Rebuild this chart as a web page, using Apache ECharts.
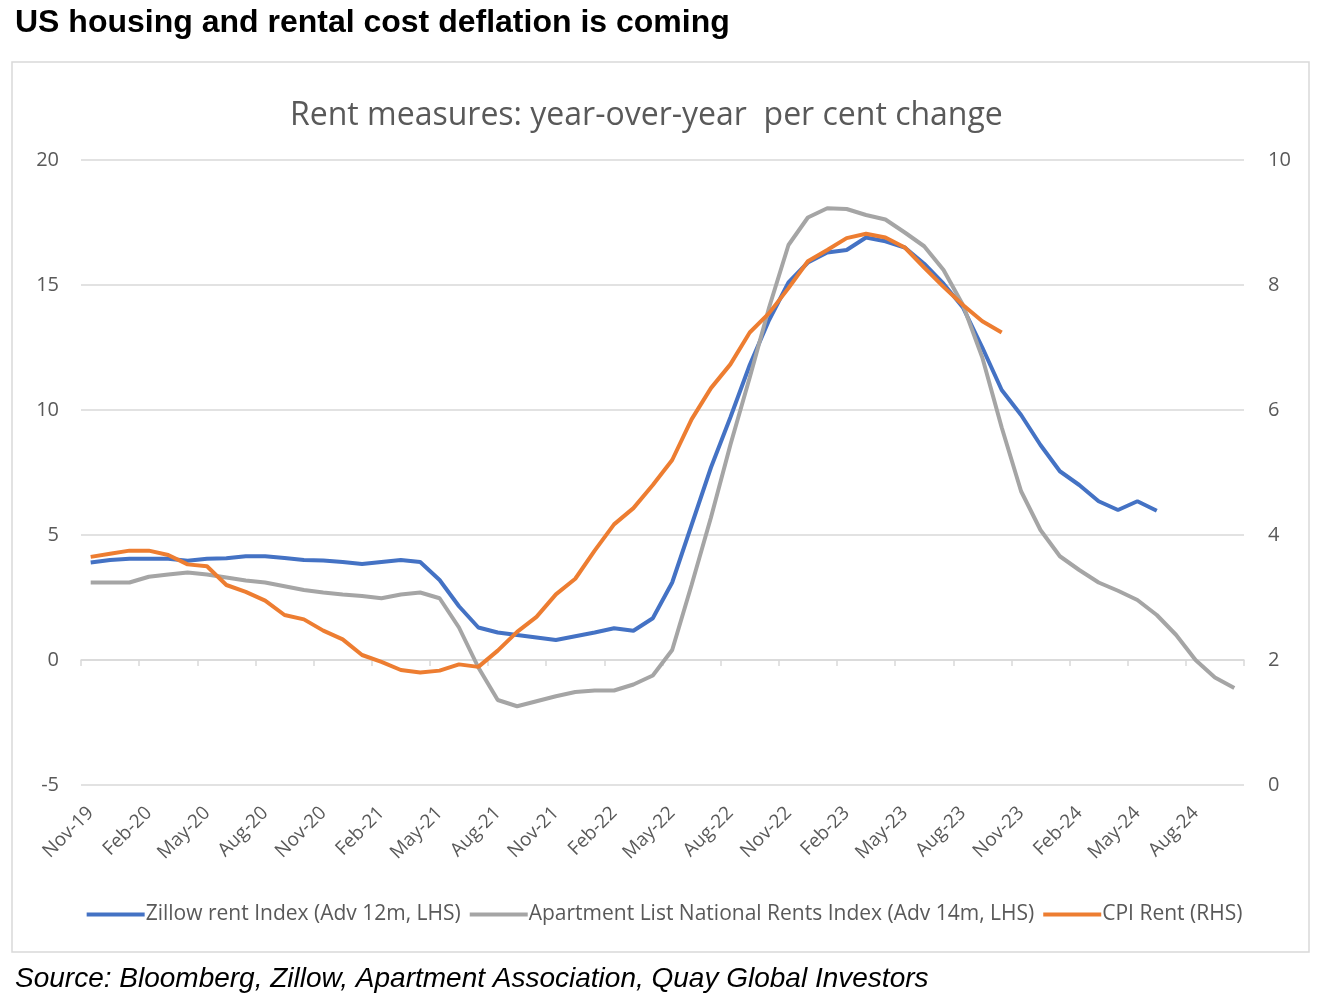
<!DOCTYPE html>
<html>
<head>
<meta charset="utf-8">
<title>Rent measures</title>
<script src="https://cdn.jsdelivr.net/npm/echarts@6/dist/echarts.min.js"></script>
<style>
  html, body { margin: 0; padding: 0; background: #fff; }
  #chart-container { width: 1329px; height: 1003px; }
</style>
</head>
<body>
<div id="chart-container"></div>
<script>
// monthly categories, Nov-19 .. Oct-24
var months = [
  "Nov-19", "Dec-19", "Jan-20", "Feb-20", "Mar-20", "Apr-20", "May-20", "Jun-20", "Jul-20", "Aug-20",
  "Sep-20", "Oct-20", "Nov-20", "Dec-20", "Jan-21", "Feb-21", "Mar-21", "Apr-21", "May-21", "Jun-21",
  "Jul-21", "Aug-21", "Sep-21", "Oct-21", "Nov-21", "Dec-21", "Jan-22", "Feb-22", "Mar-22", "Apr-22",
  "May-22", "Jun-22", "Jul-22", "Aug-22", "Sep-22", "Oct-22", "Nov-22", "Dec-22", "Jan-23", "Feb-23",
  "Mar-23", "Apr-23", "May-23", "Jun-23", "Jul-23", "Aug-23", "Sep-23", "Oct-23", "Nov-23", "Dec-23",
  "Jan-24", "Feb-24", "Mar-24", "Apr-24", "May-24", "Jun-24", "Jul-24", "Aug-24", "Sep-24", "Oct-24"
];

// Zillow rent index, advanced 12m (LHS)
var zillow = [
  3.9, 4.0, 4.05, 4.05, 4.05, 3.97, 4.05, 4.07, 4.15, 4.15,
  4.08, 4.0, 3.98, 3.92, 3.84, 3.92, 4.0, 3.92, 3.2, 2.15,
  1.3, 1.1, 1.0, 0.9, 0.8, 0.95, 1.1, 1.27, 1.17, 1.67,
  3.1, 5.4, 7.7, 9.7, 11.8, 13.6, 15.1, 15.9, 16.3, 16.4,
  16.9, 16.75, 16.5, 15.85, 15.05, 14.1, 12.5, 10.8, 9.8, 8.6,
  7.55, 7.0, 6.35, 6.0, 6.35, 5.97
];

// Apartment List national rents index, advanced 14m (LHS)
var apartmentList = [
  3.1, 3.1, 3.1, 3.33, 3.42, 3.5, 3.42, 3.3, 3.18, 3.1,
  2.95, 2.8, 2.7, 2.62, 2.56, 2.47, 2.62, 2.7, 2.47, 1.3,
  -0.3, -1.6, -1.85, -1.65, -1.45, -1.28, -1.22, -1.22, -0.98, -0.62,
  0.4, 3.0, 5.7, 8.6, 11.3, 14.1, 16.6, 17.7, 18.07, 18.04,
  17.8, 17.62, 17.1, 16.55, 15.6, 14.2, 12.1, 9.3, 6.75, 5.2,
  4.15, 3.6, 3.1, 2.77, 2.4, 1.8, 1.0, 0.0, -0.7, -1.12
];

// CPI rent (RHS)
var cpiRent = [
  3.65, 3.7, 3.75, 3.75, 3.68, 3.53, 3.5, 3.2, 3.09, 2.95,
  2.72, 2.65, 2.47, 2.33, 2.08, 1.97, 1.84, 1.8, 1.83, 1.93,
  1.89, 2.15, 2.45, 2.69, 3.05, 3.3, 3.75, 4.17, 4.43, 4.8,
  5.2, 5.85, 6.35, 6.73, 7.24, 7.55, 7.95, 8.38, 8.56, 8.75,
  8.82, 8.76, 8.6, 8.28, 7.97, 7.68, 7.42, 7.24
];

var seriesNames = [
  "Zillow rent Index (Adv 12m, LHS)",
  "Apartment List National Rents Index (Adv 14m, LHS)",
  "CPI Rent (RHS)"
];

var dom = document.getElementById("chart-container");
var myChart = echarts.init(dom, null, { renderer: "canvas" });

var labelFont = "'Open Sans', 'Noto Sans', sans-serif";
var gridColor = "#d9d9d9";
var textColor = "#595959";

var option = {
  backgroundColor: "#fff",
  animation: false,
  title: [
    {
      text: "US housing and rental cost deflation is coming",
      left: 10,
      top: 2,
      textStyle: {
        fontFamily: "'Liberation Sans', Arial, sans-serif",
        fontWeight: "bold",
        fontSize: 32,
        color: "#000"
      }
    },
    {
      text: "Rent measures: year-over-year  per cent change",
      left: 285,
      top: 95,
      textStyle: {
        fontFamily: labelFont,
        fontWeight: "normal",
        fontSize: 32,
        color: textColor
      }
    },
    {
      text: "Source: Bloomberg, Zillow, Apartment Association, Quay Global Investors",
      left: 10,
      top: 960,
      textStyle: {
        fontFamily: "'Liberation Sans', Arial, sans-serif",
        fontStyle: "italic",
        fontWeight: "normal",
        fontSize: 28,
        color: "#000"
      }
    }
  ],
  graphic: [
    {
      type: "rect",
      silent: true,
      shape: { x: 12, y: 62, width: 1297, height: 890 },
      style: { fill: "none", stroke: gridColor, lineWidth: 1.5 }
    }
  ],
  legend: {
    top: 899,
    left: "center",
    icon: "rect",
    itemWidth: 58,
    itemHeight: 4,
    itemGap: 9,
    data: seriesNames,
    textStyle: {
      fontFamily: labelFont,
      fontSize: 21,
      color: textColor,
      padding: [0, 0, 0, -4]
    }
  },
  grid: {
    left: 81,
    right: 85,
    top: 160,
    bottom: 218
  },
  xAxis: [
    {
      type: "category",
      data: months,
      boundaryGap: true,
      axisLine: {
        onZero: true,
        onZeroAxisIndex: 0,
        lineStyle: { color: gridColor, width: 1.5 }
      },
      axisTick: {
        show: true,
        interval: 2,
        length: 6,
        lineStyle: { color: gridColor, width: 1.5 }
      },
      axisLabel: { show: false },
      splitLine: { show: false }
    },
    {
      type: "category",
      data: months,
      position: "bottom",
      boundaryGap: true,
      axisLine: { show: false, onZero: false },
      axisTick: { show: false },
      axisLabel: {
        interval: 2,
        rotate: 45,
        margin: 25,
        fontFamily: labelFont,
        fontSize: 19,
        color: textColor
      },
      splitLine: { show: false }
    }
  ],
  yAxis: [
    {
      type: "value",
      min: -5,
      max: 20,
      interval: 5,
      axisLine: { show: false },
      axisTick: { show: false },
      axisLabel: {
        margin: 22,
        fontFamily: labelFont,
        fontSize: 20,
        color: textColor
      },
      splitLine: { lineStyle: { color: gridColor, width: 1.5 } }
    },
    {
      type: "value",
      position: "right",
      min: 0,
      max: 10,
      interval: 2,
      axisLine: { show: false },
      axisTick: { show: false },
      axisLabel: {
        margin: 24,
        fontFamily: labelFont,
        fontSize: 20,
        color: textColor
      },
      splitLine: { show: false }
    }
  ],
  series: [
    {
      name: seriesNames[0],
      type: "line",
      xAxisIndex: 0,
      yAxisIndex: 0,
      data: zillow,
      symbol: "none",
      color: "#4472C4",
      lineStyle: { width: 4, color: "#4472C4" },
      emphasis: { disabled: true }
    },
    {
      name: seriesNames[1],
      type: "line",
      xAxisIndex: 0,
      yAxisIndex: 0,
      data: apartmentList,
      symbol: "none",
      color: "#A5A5A5",
      lineStyle: { width: 4, color: "#A5A5A5" },
      emphasis: { disabled: true }
    },
    {
      name: seriesNames[2],
      type: "line",
      xAxisIndex: 0,
      yAxisIndex: 1,
      data: cpiRent,
      symbol: "none",
      color: "#ED7D31",
      lineStyle: { width: 4, color: "#ED7D31" },
      emphasis: { disabled: true }
    }
  ]
};

myChart.setOption(option);
window.addEventListener("resize", myChart.resize);
</script>
</body>
</html>
